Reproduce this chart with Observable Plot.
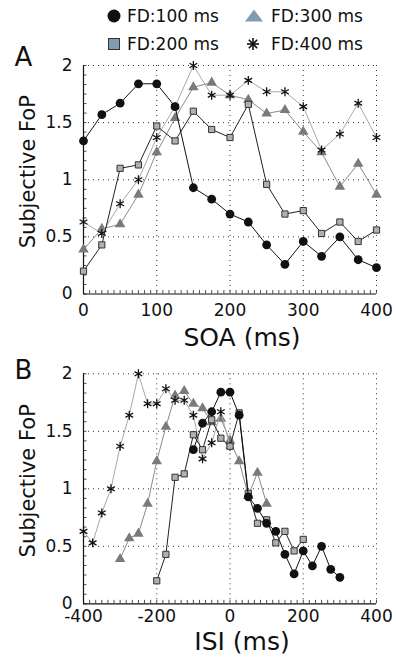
<!DOCTYPE html>
<html>
<head>
<meta charset="utf-8">
<script src="https://cdn.jsdelivr.net/npm/d3@7"></script>
<script src="https://cdn.jsdelivr.net/npm/@observablehq/plot@0.6"></script>
<style>
  body { margin: 0; background: #fff; }
  #wrap { position: relative; width: 396px; height: 659px; font-family: "DejaVu Sans", sans-serif; }
  #legend { position: absolute; left: 0; top: 0; width: 396px; height: 60px; z-index: 2; }
  .li { position: absolute; font-size: 17px; line-height: 20px; color: #111; white-space: nowrap; }
  .ls { position: absolute; overflow: visible; }
  svg { display: block; }
</style>
</head>
<body>
<div id="wrap"><div id="legend"></div><div id="charts"></div></div>
<script>
// ---- data ----
const soa = [0, 25, 50, 75, 100, 125, 150, 175, 200, 225, 250, 275, 300, 325, 350, 375, 400];
const fd100 = [1.34, 1.57, 1.67, 1.84, 1.84, 1.64, 0.93, 0.83, 0.70, 0.63, 0.43, 0.26, 0.46, 0.33, 0.50, 0.30, 0.23];
const fd200 = [0.20, 0.43, 1.10, 1.13, 1.47, 1.34, 1.60, 1.44, 1.37, 1.66, 0.96, 0.70, 0.73, 0.53, 0.63, 0.46, 0.56];
const fd300 = [0.39, 0.57, 0.61, 0.87, 1.24, 1.54, 1.81, 1.85, 1.74, 1.70, 1.58, 1.61, 1.42, 1.24, 0.94, 1.14, 0.87];
const fd400 = [0.63, 0.53, 0.79, 1.00, 1.37, 1.64, 2.00, 1.74, 1.74, 1.87, 1.77, 1.77, 1.64, 1.26, 1.40, 1.67, 1.37];
const fdValues = [100, 200, 300, 400];
const legendLabels = ["FD:100 ms", "FD:200 ms", "FD:300 ms", "FD:400 ms"];
const yTicks = [0, 0.5, 1, 1.5, 2];
const soaTicks = [0, 100, 200, 300, 400];
const isiTicks = [-400, -200, 0, 200, 400];

const seriesValues = {100: fd100, 200: fd200, 300: fd300, 400: fd400};
const rows = [];
for (const fd of fdValues) {
  seriesValues[fd].forEach((v, i) => rows.push({fd, soa: soa[i], isi: soa[i] - fd, fop: v}));
}

const styles = {
  100: {line: "#111", symbol: "circle", fill: "#111", stroke: "none", r: 4.4, sw: 0},
  200: {line: "#222", symbol: "square", fill: "#b0b0b0", stroke: "#333", r: 3.5, sw: 1},
  300: {line: "#8a8a8a", symbol: "triangle", fill: "#7a7a7a", stroke: "none", r: 3.9, sw: 0},
  400: {line: "#a8a8a8", symbol: "asterisk", fill: "none", stroke: "#111", r: 4.2, sw: 1.3}
};
const drawOrder = [300, 400, 200, 100];

function panel(o) {
  const [x0, x1] = o.domain;
  const span = x1 - x0;
  const minorX = d3.range(0, 49).map(i => x0 + i * span / 48);
  const minorY = d3.range(0, 25).map(i => i / 12);
  const marks = [
    Plot.ruleX(o.ticks.slice(1), {stroke: "#333", strokeDasharray: "1,4", strokeWidth: 1}),
    Plot.ruleY(yTicks.slice(1), {stroke: "#333", strokeDasharray: "1,4", strokeWidth: 1}),
    Plot.ruleX(minorX, {y1: 0, y2: 0.03, stroke: "#222", strokeWidth: 0.8}),
    Plot.ruleY(minorY, {x1: x0, x2: x0 + span * 0.012, stroke: "#222", strokeWidth: 0.8}),
    Plot.ruleX([x0], {stroke: "#111", strokeWidth: 1.2}),
    Plot.ruleY([0], {stroke: "#111", strokeWidth: 1.2}),
    Plot.axisX({ticks: o.ticks, tickSize: 0, tickPadding: o.tickPad, label: null, tickFormat: d => String(d), fontSize: 17}),
    Plot.axisY({ticks: yTicks, tickSize: 0, tickPadding: 11, label: null, tickFormat: d => String(d), fontSize: 17})
  ];
  for (const fd of drawOrder) {
    const s = styles[fd];
    const d = rows.filter(r => r.fd === fd);
    marks.push(Plot.line(d, {x: o.key, y: "fop", stroke: s.line, strokeWidth: 1}));
    marks.push(Plot.dot(d, {x: o.key, y: "fop", symbol: s.symbol, r: s.r, fill: s.fill, stroke: s.stroke, strokeWidth: s.sw}));
  }
  marks.push(Plot.text([o.xLabel], {frameAnchor: "bottom", dx: 12, dy: o.xLabelDy, lineAnchor: "bottom", fontSize: 25, fill: "#111"}));
  marks.push(Plot.text(["Subjective FoP"], {frameAnchor: "left", rotate: -90, dx: -55, dy: -8, textAnchor: "middle", lineAnchor: "middle", fontSize: 21, fill: "#111"}));
  marks.push(Plot.text([o.letter], {frameAnchor: "top-left", dx: -60, dy: o.letterDy, lineAnchor: "middle", textAnchor: "middle", fontSize: 26, fill: "#111"}));
  return Plot.plot({
    width: 396, height: o.height,
    marginLeft: 83, marginRight: 20, marginTop: o.marginTop, marginBottom: o.marginBottom,
    x: {domain: o.domain}, y: {domain: [0, 2]},
    style: {fontFamily: "DejaVu Sans, sans-serif", fontSize: "17px", color: "#111", background: "transparent", overflow: "visible"},
    marks
  });
}

const charts = document.getElementById("charts");
charts.appendChild(panel({key: "soa", domain: [0, 400], ticks: soaTicks, xLabel: "SOA (ms)", height: 350, marginTop: 65, marginBottom: 56.5, tickPad: 10, xLabelDy: 52, letter: "A", letterDy: -8}));
charts.appendChild(panel({key: "isi", domain: [-400, 400], ticks: isiTicks, xLabel: "ISI (ms)", height: 309, marginTop: 23.3, marginBottom: 55.7, tickPad: 6, xLabelDy: 46, letter: "B", letterDy: -3}));

// ---- legend ----
const legendPos = [
  {fd: 100, cx: 113.5, cy: 15.5},
  {fd: 200, cx: 113.5, cy: 43.5},
  {fd: 300, cx: 253.5, cy: 15.5},
  {fd: 400, cx: 252.5, cy: 43.5}
];
const legendSym = {
  100: '<circle cx="10" cy="10" r="6.5" fill="#111"/>',
  200: '<rect x="4.5" y="4.5" width="11" height="11" fill="#7f9db0" stroke="#333" stroke-width="1"/>',
  300: '<path d="M10 3.5 L19 15.5 L1 15.5 Z" fill="#7f9db0"/>',
  400: '<g stroke="#111" stroke-width="1.6"><line x1="10" y1="4" x2="10" y2="16"/><line x1="4" y1="10" x2="16" y2="10"/><line x1="5.8" y1="5.8" x2="14.2" y2="14.2"/><line x1="14.2" y1="5.8" x2="5.8" y2="14.2"/></g>'
};
const legend = document.getElementById("legend");
legendPos.forEach(p => {
  const idx = fdValues.indexOf(p.fd);
  const s = document.createElementNS("http://www.w3.org/2000/svg", "svg");
  s.setAttribute("class", "ls");
  s.setAttribute("width", 20); s.setAttribute("height", 20);
  s.style.left = (p.cx - 10) + "px"; s.style.top = (p.cy - 10) + "px";
  s.innerHTML = legendSym[p.fd];
  legend.appendChild(s);
  const t = document.createElement("div");
  t.className = "li";
  t.textContent = legendLabels[idx];
  t.style.left = (p.fd <= 200 ? 127 : 271) + "px";
  t.style.top = (p.cy - 10) + "px";
  legend.appendChild(t);
});
</script>
</body>
</html>
